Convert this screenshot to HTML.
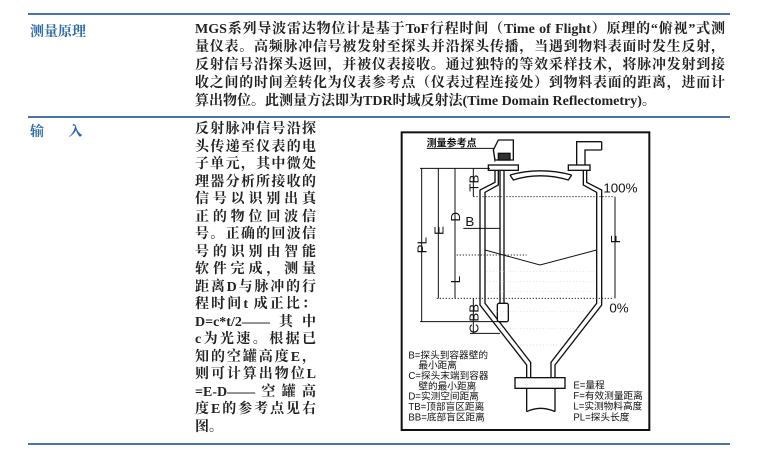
<!DOCTYPE html>
<html><head><meta charset="utf-8"><style>
body{margin:0;width:759px;height:449px;background:#fff;position:relative;overflow:hidden;font-family:"Liberation Serif","Noto Serif CJK SC",serif;}
.hr{position:absolute;left:28px;width:702px;height:2px;background:#4a74a8;}
.lab{position:absolute;color:#2c6aa8;font-size:14px;font-weight:bold;font-family:"Liberation Serif","Noto Serif CJK SC",serif;}
.p{position:absolute;left:195px;width:530px;font-size:14px;line-height:18px;color:#222;font-weight:bold;}
.p div,.q div{text-align:justify;text-align-last:justify;white-space:nowrap;height:18px;}
.p div.l,.q div.l{text-align-last:left;}
.q{position:absolute;left:195px;width:121px;font-size:14px;line-height:17.5px;color:#222;font-weight:bold;}
.q div{height:17.5px;}
</style></head><body>
<div class="hr" style="top:13px"></div>
<div class="hr" style="top:116px"></div>
<div class="hr" style="top:443px"></div>
<div class="lab" style="left:30px;top:21px">测量原理</div>
<div class="lab" style="left:30px;top:121px">输&nbsp;&nbsp;&nbsp;&nbsp;&nbsp;&nbsp;&nbsp;入</div>
<div class="p" style="top:21px">
<div>MGS系列导波雷达物位计是基于ToF行程时间（Time of Flight）原理的“俯视”式测</div>
<div>量仪表。高频脉冲信号被发射至探头并沿探头传播，当遇到物料表面时发生反射，</div>
<div>反射信号沿探头返回，并被仪表接收。通过独特的等效采样技术，将脉冲发射到接</div>
<div>收之间的时间差转化为仪表参考点（仪表过程连接处）到物料表面的距离，进而计</div>
<div class="l">算出物位。此测量方法即为TDR时域反射法(Time Domain Reflectometry)。</div>
</div>
<div class="q" style="top:121px">
<div>反射脉冲信号沿探</div><div>头传递至仪表的电</div><div>子单元，其中微处</div><div>理器分析所接收的</div><div>信号以识别出真</div><div>正的物位回波信</div><div>号。正确的回波信</div><div>号的识别由智能</div><div>软件完成，测量</div><div>距离D与脉冲的行</div><div>程时间t 成正比：</div><div>D=c*t/2——其中</div><div>c为光速。根据已</div><div>知的空罐高度E，</div><div>则可计算出物位L</div><div>=E-D——空罐高</div><div>度E的参考点见右</div><div class="l">图。</div>
</div>
<svg style="position:absolute;left:380px;top:125px" width="280" height="320" viewBox="0 0 840 960">
<g fill="none" stroke="#111" stroke-width="4">
<rect x="65" y="22" width="743" height="893" stroke-width="6"/>
<path d="M345 135 V172 L300 195 V540 L440 720 V758"/>
<path d="M355 135 V180 L315 202 V535 L452 712 V758"/>
<path d="M620 135 V172 L665 195 V540 L525 720 V758"/>
<path d="M610 135 V180 L650 202 V535 L513 712 V758"/>
<path d="M390 150 L400 165 Q480 140 565 165 L575 150"/>
<path d="M390 150 Q480 125 575 150"/>
<rect x="325" y="120" width="90" height="16" fill="#fff"/>
<rect x="565" y="120" width="65" height="16" fill="#fff"/>
<path d="M590 120 V50 H665 M615 120 V75 H665 M665 50 V75"/>
<path d="M340 75 L355 45 H400 V105 H345 Z"/>
<rect x="355" y="85" width="35" height="20" fill="#333"/>
<rect x="405" y="758" width="150" height="32" fill="#fff"/>
<path d="M440 790 V860 M525 790 V860"/>
<path d="M440 860 Q482 840 525 860" />
<path d="M360 135 V535 M372 135 V535"/>
<rect x="352" y="535" width="33" height="55" rx="5" fill="#fff"/>
<path d="M315 375 L480 420 L650 375" stroke-width="3"/>
</g>
<g stroke="#333" stroke-width="3" stroke-dasharray="4 5" fill="none">
<path d="M280 215 H700 M170 520 H700 M230 390 H440"/>
</g>
<g stroke="#bbb" stroke-width="2" stroke-dasharray="2 8" fill="none">
<path d="M320 440 H645 M320 470 H645 M330 500 H640 M330 560 H630 M360 610 H600 M400 660 H560"/>
</g>
<g stroke="#111" stroke-width="3" fill="none">
<path d="M125 130 V590 M175 130 V520 M225 130 V390 M225 390 V520 M280 130 V215 M280 520 V590 M280 590 V625 M705 215 V520"/>
<path d="M120 130 H330 M120 590 H360 M270 625 H360 M250 310 H360"/>
<path d="M140 70 H340 L345 110"/>
</g>
<g font-family="Liberation Sans, Noto Sans CJK SC, sans-serif" fill="#111" font-size="40">
<text x="140" y="65" font-size="30" font-weight="bold">测量参考点</text>
<text x="670" y="202">100%</text>
<text x="688" y="562">0%</text>
<text transform="translate(140 385) rotate(-90)">PL</text>
<text transform="translate(190 330) rotate(-90)">E</text>
<text transform="translate(240 290) rotate(-90)">D</text>
<text transform="translate(295 200) rotate(-90)">TB</text>
<text transform="translate(240 475) rotate(-90)">L</text>
<text transform="translate(295 590) rotate(-90)">BB</text>
<text transform="translate(295 625) rotate(-90)">C</text>
<text transform="translate(720 355) rotate(-90)">F</text>
<text x="256" y="303">B</text>
<g font-size="29">
<text x="85" y="700">B=探头到容器壁的</text>
<text x="115" y="731">最小距离</text>
<text x="85" y="762">C=探头末端到容器</text>
<text x="115" y="793">壁的最小距离</text>
<text x="85" y="824">D=实测空间距离</text>
<text x="85" y="855">TB=顶部盲区距离</text>
<text x="85" y="886">BB=底部盲区距离</text>
<text x="580" y="790">E=量程</text>
<text x="580" y="822">F=有效测量距离</text>
<text x="580" y="854">L=实测物料高度</text>
<text x="580" y="886">PL=探头长度</text>
</g>
</g>
</svg>
</body></html>
